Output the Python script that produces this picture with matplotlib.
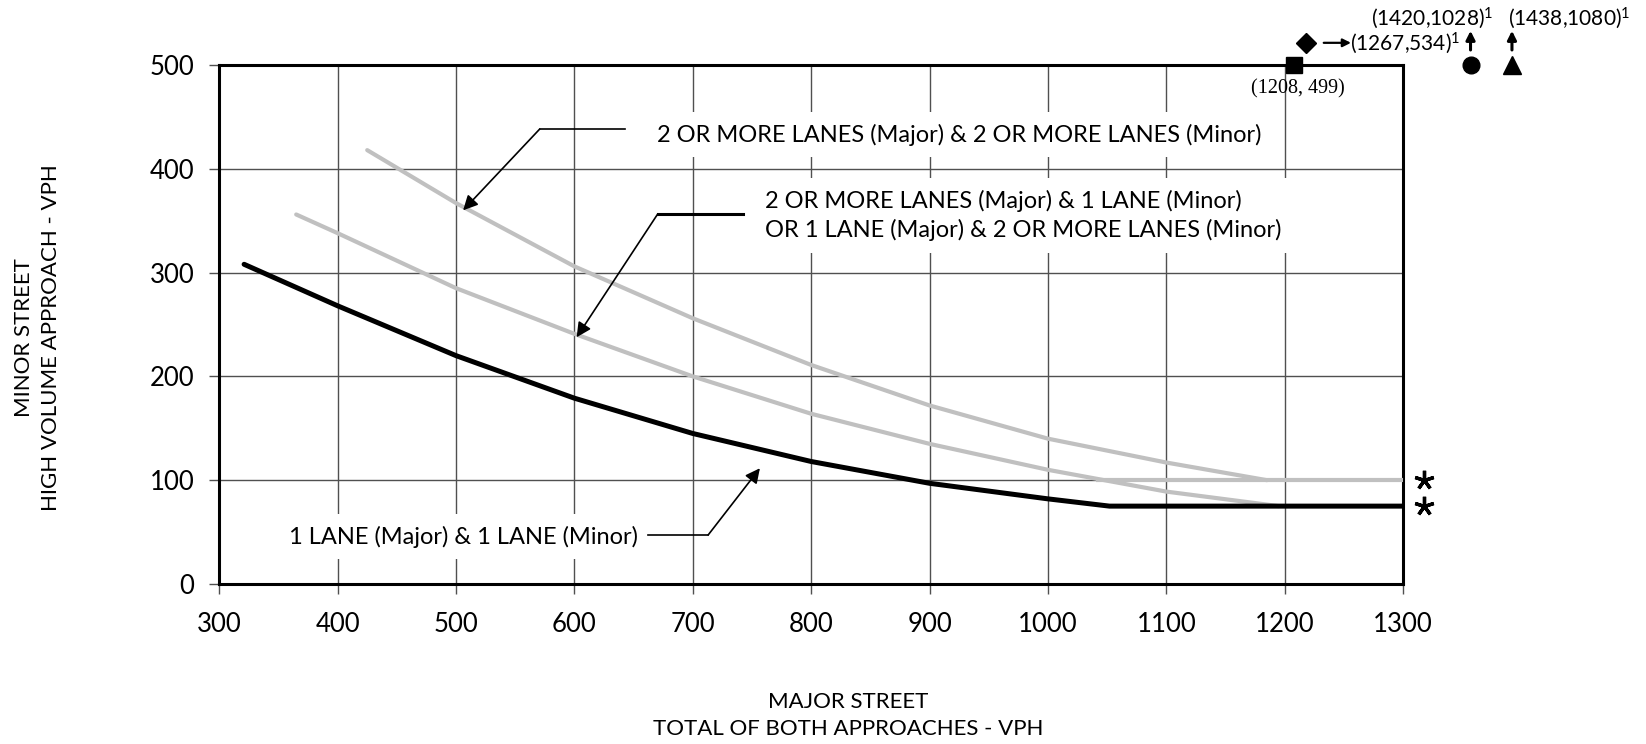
import numpy as np
import matplotlib.pyplot as plt

plt.rcParams['font.family'] = ['Lato', 'DejaVu Sans']
plt.rcParams['mathtext.fontset'] = 'custom'
plt.rcParams['mathtext.rm'] = 'Lato'
plt.rcParams['mathtext.it'] = 'Lato:italic'
plt.rcParams['mathtext.bf'] = 'Lato:bold'

# 1 LANE (Major) & 1 LANE (Minor)
x_one = [321, 400, 500, 600, 700, 800, 900, 1000, 1052, 1300]
y_one = [308, 268, 220, 179, 145, 118, 97, 82, 75, 75]

# 2+ LANES (Major) & 1 LANE (Minor) / 1 LANE (Major) & 2+ LANES (Minor)
x_mid = [365, 400, 500, 600, 700, 800, 900, 1000, 1100, 1195]
y_mid = [356, 338, 285, 241, 200, 164, 135, 110, 89, 75]

# 2+ LANES (Major) & 2+ LANES (Minor)
x_two = [425, 500, 600, 700, 800, 900, 1000, 1100, 1185]
y_two = [418, 367, 306, 256, 211, 172, 140, 117, 100]

# lower threshold for 2+ lane minor approach
x_thr = [1041, 1300]
y_thr = [100, 100]
thresholds = [100, 75]

# off-chart points shown along the top edge
pt_x = [1208, 1218, 1357, 1392]
pt_y = [500, 521, 500, 500]
pt_marker = ['s', 'D', 'o', '^']
pt_size = [12, 10.5, 12, 13]

xticks = np.arange(300, 1301, 100)
yticks = np.arange(0, 501, 100)

black = '#000000'
grey = '#c0c0c0'

fig = plt.figure(figsize=(16.46, 7.44), dpi=100)
ax = fig.add_axes([0.1332, 0.2151, 0.7192, 0.6975])

ax.plot(x_thr, y_thr, color=grey, lw=3.0, solid_capstyle='butt', zorder=3)
ax.plot(x_two, y_two, color=grey, lw=3.0, solid_capstyle='round', zorder=3)
ax.plot(x_mid, y_mid, color=grey, lw=3.0, solid_capstyle='round', zorder=3)
ax.plot(x_one, y_one, color=black, lw=3.6, solid_capstyle='round', zorder=4)

ax.set_xlim(300, 1300)
ax.set_ylim(0, 500)
ax.set_xticks(xticks)
ax.set_yticks(yticks)
ax.grid(True, color='#505050', lw=1.0)
ax.set_axisbelow(True)
for s in ax.spines.values():
    s.set_linewidth(2.2)
ax.tick_params(axis='both', direction='out', length=7, width=1, color='#505050', labelsize=18.5)
ax.tick_params(axis='x', pad=13)
ax.tick_params(axis='y', pad=11)

ax.set_xlabel('MAJOR STREET\nTOTAL OF BOTH APPROACHES - VPH', fontsize=16, linespacing=1.4)
ax.xaxis.set_label_coords(0.531, -0.2534)
ax.xaxis.label.set_va('center')
ax.set_ylabel('MINOR STREET\nHIGH VOLUME APPROACH - VPH', fontsize=16, linespacing=1.4)
ax.yaxis.set_label_coords(-0.1536, 0.474)
ax.yaxis.label.set_va('center')

# curve labels with leaders
box = dict(boxstyle='square,pad=0.5', fc='white', ec='none')
ax.text(670, 433, '2 OR MORE LANES (Major) & 2 OR MORE LANES (Minor)', fontsize=17,
        va='center', ha='left', bbox=box, zorder=5)
ax.plot([570.7, 642.7], [438.3, 438.3], color=black, lw=1.2, zorder=6)
ax.annotate('', xy=(506, 360), xytext=(570.7, 438.3),
            arrowprops=dict(arrowstyle='-|>', color=black, lw=1.2, mutation_scale=22,
                            shrinkA=0, shrinkB=0), zorder=6)

ax.text(761, 355, '2 OR MORE LANES (Major) & 1 LANE (Minor)\nOR 1 LANE (Major) & 2 OR MORE LANES (Minor)',
        fontsize=17, va='center', ha='left', linespacing=1.35, bbox=box, zorder=5)
ax.plot([670.4, 742.2], [356.5, 356.5], color=black, lw=2.2, zorder=6)
ax.annotate('', xy=(601.9, 237.7), xytext=(670.4, 356.5),
            arrowprops=dict(arrowstyle='-|>', color=black, lw=1.2, mutation_scale=22,
                            shrinkA=0, shrinkB=0), zorder=6)

ax.text(359, 45.6, '1 LANE (Major) & 1 LANE (Minor)', fontsize=17,
        va='center', ha='left', bbox=box, zorder=5)
ax.plot([662.3, 713], [47.2, 47.2], color=black, lw=1.2, zorder=6)
ax.annotate('', xy=(756.7, 111.5), xytext=(713, 47.2),
            arrowprops=dict(arrowstyle='-|>', color=black, lw=1.2, mutation_scale=22,
                            shrinkA=0, shrinkB=0), zorder=6)

# asterisks for lower thresholds
ax.plot([1318] * len(thresholds), thresholds, ls='none', marker=(5, 2, 0), ms=14, mew=2.4,
        color=black, clip_on=False)

# points beyond the chart edge
for px, py, m, ms in zip(pt_x, pt_y, pt_marker, pt_size):
    ax.plot(px, py, marker=m, ms=ms, color=black, ls='none', clip_on=False, zorder=7)

ax.text(1211, 476.6, '(1208, 499)', family='Liberation Serif', fontsize=14.5,
        ha='center', va='center', clip_on=False)
ax.annotate('', xy=(1256, 521.4), xytext=(1233, 521.4), annotation_clip=False,
            arrowprops=dict(arrowstyle='-|>', color=black, lw=1.6, mutation_scale=12,
                            shrinkA=0, shrinkB=0))
ax.text(1255.5, 521.4, r'(1267,534)$^{1}$', fontsize=15, ha='left', va='center', clip_on=False)
for ux in pt_x[2:]:
    ax.annotate('', xy=(ux, 533), xytext=(ux, 514.5), annotation_clip=False,
                arrowprops=dict(arrowstyle='-|>', color=black, lw=2.2, mutation_scale=13,
                                shrinkA=0, shrinkB=0))
ax.text(1325, 545, r'(1420,1028)$^{1}$', fontsize=15, ha='center', va='center', clip_on=False)
ax.text(1440, 545, r'(1438,1080)$^{1}$', fontsize=15, ha='center', va='center', clip_on=False)

fig.savefig('out.png', dpi=100)
